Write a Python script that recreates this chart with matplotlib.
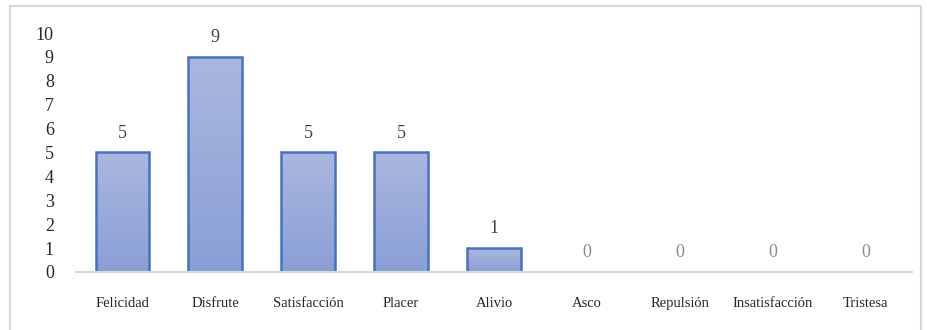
import matplotlib
matplotlib.use("Agg")
import matplotlib.pyplot as plt
import numpy as np
from matplotlib.patches import Rectangle
from matplotlib.colors import LinearSegmentedColormap

# datos
categorias = ["Felicidad", "Disfrute", "Satisfacción", "Placer", "Alivio",
              "Asco", "Repulsión", "Insatisfacción", "Tristesa"]
valores = [5, 9, 5, 5, 1, 0, 0, 0, 0]
y_ticks = list(range(0, 11))

plt.rcParams["font.family"] = ["Liberation Serif", "DejaVu Serif"]

fig = plt.figure(figsize=(9.27, 3.30), dpi=100)
ax = fig.add_axes([0.082, 0.176, 0.902, 0.724])

# marco exterior gris
fig.patches.append(Rectangle((10 / 927, -0.1), 911 / 927, 1.1 - 6 / 330,
                             transform=fig.transFigure, fill=False,
                             edgecolor="#D9D9D9", linewidth=1.5))

x = np.arange(len(categorias))
ancho = 0.58
cmap = LinearSegmentedColormap.from_list("grad", ["#8A9FD6", "#AAB7DF"])
grad = np.linspace(0, 1, 256).reshape(-1, 1)

barras = ax.bar(x, valores, width=ancho, color="none", edgecolor="#4472C4",
                linewidth=1.8, zorder=3)
for b, v in zip(barras, valores):
    if v <= 0:
        continue
    x0, w, h = b.get_x(), b.get_width(), b.get_height()
    im = ax.imshow(grad, cmap=cmap, aspect="auto", origin="lower",
                   extent=(x0, x0 + w, 0, h), zorder=2)
    im.set_clip_path(b)

for xi, v in zip(x, valores):
    col = "#404040" if v > 0 else "#8C8C8C"
    ax.text(xi, v + 0.45, str(v), ha="center", va="bottom", fontsize=13,
            color=col)

ax.set_xlim(-0.5, len(categorias) - 0.5)
ax.set_ylim(0, 10)
ax.set_yticks(y_ticks)
ax.set_yticklabels([str(t) for t in y_ticks], fontsize=13, color="#262626")
ax.set_xticks(x)
ax.set_xticklabels(categorias, fontsize=10.5, color="#262626")
ax.tick_params(axis="both", length=0)
ax.tick_params(axis="x", pad=18)
ax.tick_params(axis="y", pad=16)

for s in ["top", "right", "left"]:
    ax.spines[s].set_visible(False)
ax.spines["bottom"].set_color("#D9D9D9")
ax.spines["bottom"].set_linewidth(1.5)
ax.spines["bottom"].set_zorder(4)

fig.savefig("out.png", dpi=100)
